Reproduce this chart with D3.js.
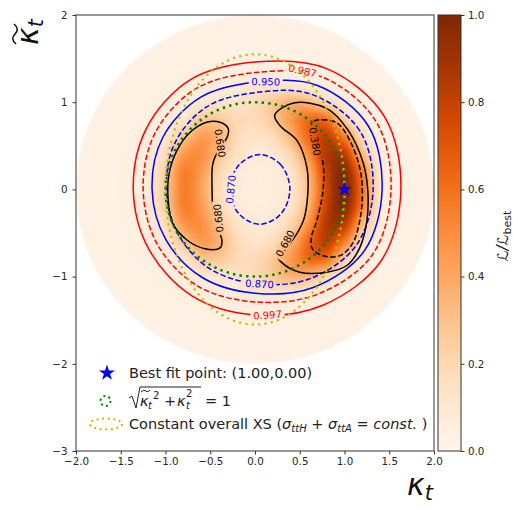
<!DOCTYPE html>
<html><head><meta charset="utf-8">
<script src="https://cdn.jsdelivr.net/npm/d3@7/dist/d3.min.js"></script>
<style>
html,body{margin:0;padding:0;background:#fff;}
svg{display:block;}
text{font-family:"DejaVu Sans",sans-serif;}
</style></head><body>
<svg id="chart" width="513" height="510"></svg>
<script>
// ================= DATA =================
const kappaGrid = [-2.0,-1.8,-1.6,-1.4,-1.2,-1.0,-0.8,-0.6,-0.4,-0.2,0.0,0.2,0.4,0.6,0.8,1.0,1.2,1.4,1.6,1.8,2.0];
// upper half of the (top/bottom symmetric) likelihood map, kappaTilde = 0 .. 2
const kappaTildeGrid = [0.0,0.2,0.4,0.6,0.8,1.0,1.2,1.4,1.6,1.8,2.0];
const likelihoodRows = [
 [0.035,0.035,0.035,0.045,0.088,0.27,0.55,0.42,0.17,0.082,0.06,0.073,0.117,0.325,0.77,1.0,0.59,0.122,0.039,0.035,0.035],
 [0.035,0.035,0.035,0.044,0.083,0.25,0.54,0.45,0.21,0.096,0.065,0.076,0.138,0.37,0.80,0.97,0.54,0.109,0.039,0.035,0.035],
 [0.035,0.035,0.035,0.041,0.069,0.18,0.45,0.49,0.30,0.145,0.089,0.109,0.21,0.49,0.85,0.83,0.34,0.078,0.037,0.035,0.035],
 [0.035,0.035,0.035,0.036,0.054,0.11,0.28,0.44,0.36,0.19,0.134,0.18,0.35,0.63,0.81,0.55,0.18,0.049,0.035,0.035,0.035],
 [0.035,0.035,0.035,0.035,0.042,0.064,0.12,0.27,0.27,0.19,0.187,0.27,0.45,0.62,0.60,0.25,0.079,0.038,0.035,0.035,0.035],
 [0.035,0.035,0.035,0.035,0.036,0.044,0.064,0.095,0.126,0.137,0.18,0.27,0.36,0.33,0.20,0.088,0.042,0.035,0.035,0.035,0.035],
 [0.035,0.035,0.035,0.035,0.035,0.036,0.042,0.054,0.067,0.077,0.106,0.11,0.10,0.09,0.065,0.041,0.035,0.035,0.035,0.035,0.035],
 [0.035,0.035,0.035,0.035,0.035,0.035,0.035,0.036,0.041,0.044,0.049,0.046,0.043,0.037,0.035,0.035,0.035,0.035,0.035,0.035,0.035],
 [0.035,0.035,0.035,0.035,0.035,0.035,0.035,0.035,0.035,0.035,0.035,0.035,0.035,0.035,0.035,0.035,0.035,0.035,0.035,0.035,0.035],
 [0.035,0.035,0.035,0.035,0.035,0.035,0.035,0.035,0.035,0.035,0.035,0.035,0.035,0.035,0.035,0.035,0.035,0.035,0.035,0.035,0.035],
 [0.035,0.035,0.035,0.035,0.035,0.035,0.035,0.035,0.035,0.035,0.035,0.035,0.035,0.035,0.035,0.035,0.035,0.035,0.035,0.035,0.035]
];
const scanRadius = 2.0;
const bestFit = [1.0, 0.0];
const xTicks = [-2.0,-1.5,-1.0,-0.5,0.0,0.5,1.0,1.5,2.0];
const yTicks = [-3,-2,-1,0,1,2];
const cbTicks = [0.0,0.2,0.4,0.6,0.8,1.0];

// outer confidence rings: radius from the origin at each polar angle (degrees)
const ringAngles = [0,30,60,90,120,150,180,210,240,270,300,330];
const ring997 = [1.63,1.67,1.60,1.46,1.45,1.40,1.36,1.37,1.41,1.44,1.53,1.63];
const ring987 = [1.52,1.56,1.49,1.34,1.33,1.29,1.25,1.26,1.28,1.29,1.39,1.51];
const ring950 = [1.42,1.46,1.38,1.23,1.22,1.19,1.15,1.15,1.17,1.19,1.30,1.41];
const ring870 = [1.32,1.35,1.26,1.11,1.09,1.04,0.99,1.00,1.04,1.08,1.19,1.30];
// inner / crescent contours (kappa, kappaTilde)
const contour870inner = [[0.39,0],[0.29,0.28],[0.055,0.40],[-0.18,0.28],[-0.28,0],[-0.18,-0.28],[0.055,-0.40],[0.29,-0.28]];
const contour680right = [[0.22,0.85],[0.43,0.99],[0.80,0.93],[1.04,0.68],[1.21,0.30],[1.26,-0.01],[1.25,-0.36],[1.17,-0.67],[1.03,-0.87],[0.80,-0.95],[0.50,-0.95],[0.30,-0.84],[0.25,-0.76],[0.39,-0.62],[0.54,-0.36],[0.59,-0.05],[0.58,0.25],[0.47,0.56],[0.28,0.73]];
const contour680left = [[-0.30,0.70],[-0.39,0.77],[-0.54,0.77],[-0.73,0.65],[-0.87,0.45],[-0.96,0.18],[-0.97,-0.13],[-0.92,-0.39],[-0.76,-0.58],[-0.56,-0.68],[-0.39,-0.67],[-0.37,-0.58],[-0.42,-0.44],[-0.47,-0.21],[-0.48,0.02],[-0.47,0.30],[-0.39,0.48],[-0.31,0.60]];
const contour380 = [[0.64,0.77],[0.75,0.80],[0.92,0.76],[1.06,0.56],[1.17,0.25],[1.20,-0.05],[1.17,-0.36],[1.09,-0.62],[0.95,-0.76],[0.76,-0.76],[0.64,-0.68],[0.63,-0.55],[0.69,-0.36],[0.76,-0.01],[0.76,0.30],[0.70,0.48],[0.64,0.64]];
const unitCircleRadius = 1.0;             // sqrt(kt~^2 + kt^2) = 1
const constXS = {a:1.0, b:1.55};           // constant overall XS ellipse semi-axes

const ringToPoints = r => ringAngles.map((a,i)=>[r[i]*Math.cos(a*Math.PI/180), r[i]*Math.sin(a*Math.PI/180)]);
const contourLines = [
  {pts:ringToPoints(ring997), color:"#ff0000", dash:null},
  {pts:ringToPoints(ring987), color:"#ff0000", dash:"5.5,2.4"},
  {pts:ringToPoints(ring950), color:"#0000ff", dash:null},
  {pts:ringToPoints(ring870), color:"#0000ff", dash:"5.5,2.4"},
  {pts:contour870inner, color:"#0000ff", dash:"5.5,2.4"},
  {pts:contour680left, color:"#000000", dash:null},
  {pts:contour680right, color:"#000000", dash:null},
  {pts:contour380, color:"#000000", dash:"5.5,2.4"}
];
const contourLabels = [
  {t:"0.997", x:0.14, y:-1.44, r:-4, c:"#ff0000"},
  {t:"0.987", x:0.53, y:1.36, r:12, c:"#ff0000"},
  {t:"0.950", x:0.12, y:1.235, r:1, c:"#0000ff"},
  {t:"0.870", x:0.05, y:-1.085, r:3, c:"#0000ff"},
  {t:"0.870", x:-0.27, y:0.0, r:-84, c:"#0000ff"},
  {t:"0.680", x:-0.39, y:0.53, r:82, c:"#000000"},
  {t:"0.680", x:-0.41, y:-0.33, r:-96, c:"#000000"},
  {t:"0.680", x:0.335, y:-0.62, r:-62, c:"#000000"},
  {t:"0.380", x:0.67, y:0.55, r:80, c:"#000000"}
];

// ================= DRAWING =================
const svg = d3.select("#chart");
const x = d3.scaleLinear().domain([-2,2]).range([76,434]);
const y = d3.scaleLinear().domain([-3,2]).range([451,15]);
const color = d3.scaleSequential(d3.interpolateOranges).domain([0,1]);
const defs = svg.append("defs");

// --- heat map raster ---
const fullRows = [], fullY = [];
for (let j = kappaTildeGrid.length-1; j > 0; j--) { fullRows.push(likelihoodRows[j]); fullY.push(-kappaTildeGrid[j]); }
for (let j = 0; j < kappaTildeGrid.length; j++) { fullRows.push(likelihoodRows[j]); fullY.push(kappaTildeGrid[j]); }
const nx = kappaGrid.length, ny = fullY.length;
const dxg = kappaGrid[1]-kappaGrid[0], dyg = fullY[1]-fullY[0];
function gv(i,j){ i=Math.max(0,Math.min(nx-1,i)); j=Math.max(0,Math.min(ny-1,j)); return fullRows[j][i]; }
function cr(p0,p1,p2,p3,t){ return p1 + 0.5*t*(p2-p0 + t*(2*p0-5*p1+4*p2-p3 + t*(3*(p1-p2)+p3-p0))); }
function sample(xv,yv){
  const fx=(xv-kappaGrid[0])/dxg, fy=(yv-fullY[0])/dyg;
  const i=Math.floor(fx), j=Math.floor(fy), tx=fx-i, ty=fy-j;
  const r=[];
  for(let m=-1;m<=2;m++) r.push(cr(gv(i-1,j+m),gv(i,j+m),gv(i+1,j+m),gv(i+2,j+m),tx));
  return cr(r[0],r[1],r[2],r[3],ty);
}
const lut = d3.range(1001).map(k=>d3.rgb(color(k/1000)));
const x0=x.range()[0], y0=y.range()[1];
const pw=Math.round(x.range()[1]-x0), ph=Math.round(y.range()[0]-y0);
const cv=document.createElement("canvas"); cv.width=pw; cv.height=ph;
const ctx=cv.getContext("2d"); const img=ctx.createImageData(pw,ph);
for(let py=0;py<ph;py++){
  const yv=y.invert(y0+py+0.5);
  for(let px=0;px<pw;px++){
    const xv=x.invert(x0+px+0.5);
    if(xv*xv+yv*yv>(scanRadius+0.05)*(scanRadius+0.05)) continue;
    let v=sample(xv,yv); v=Math.max(0,Math.min(1,v));
    const c=lut[Math.round(v*1000)]; const o=(py*pw+px)*4;
    img.data[o]=c.r; img.data[o+1]=c.g; img.data[o+2]=c.b; img.data[o+3]=255;
  }
}
ctx.putImageData(img,0,0);
defs.append("clipPath").attr("id","disk").append("ellipse")
  .attr("cx",x(0)).attr("cy",y(0)).attr("rx",x(scanRadius)-x(0)).attr("ry",y(0)-y(scanRadius));
svg.append("image").attr("href",cv.toDataURL()).attr("x",x0).attr("y",y0)
  .attr("width",pw).attr("height",ph).attr("preserveAspectRatio","none").attr("clip-path","url(#disk)");

// --- label mask so contour lines break under labels ---
const mask = defs.append("mask").attr("id","lblmask").attr("maskUnits","userSpaceOnUse")
  .attr("x",0).attr("y",0).attr("width",513).attr("height",510);
mask.append("rect").attr("x",0).attr("y",0).attr("width",513).attr("height",510).attr("fill","white");
contourLabels.forEach(l=>{
  mask.append("rect").attr("x",-17).attr("y",-5).attr("width",34).attr("height",10).attr("fill","black")
    .attr("transform",`translate(${x(l.x)},${y(l.y)}) rotate(${l.r})`);
});

const line = d3.line().x(d=>x(d[0])).y(d=>y(d[1])).curve(d3.curveCatmullRomClosed.alpha(0.5));
const cg = svg.append("g").attr("mask","url(#lblmask)");
contourLines.forEach(c=>{
  cg.append("path").attr("d",line(c.pts)).attr("fill","none").attr("stroke",c.color)
    .attr("stroke-width",1.5).attr("stroke-dasharray",c.dash);
});
contourLabels.forEach(l=>{
  svg.append("text").attr("transform",`translate(${x(l.x)},${y(l.y)}) rotate(${l.r})`)
    .attr("text-anchor","middle").attr("dy","0.36em").attr("font-size",10).attr("fill",l.c).text(l.t);
});

// --- reference curves ---
svg.append("ellipse").attr("cx",x(0)).attr("cy",y(0))
  .attr("rx",x(unitCircleRadius)-x(0)).attr("ry",y(0)-y(unitCircleRadius))
  .attr("fill","none").attr("stroke","#008000").attr("stroke-width",2.5).attr("stroke-dasharray","2.4,4.2");
svg.append("ellipse").attr("cx",x(0)).attr("cy",y(0))
  .attr("rx",x(constXS.a)-x(0)).attr("ry",y(0)-y(constXS.b))
  .attr("fill","none").attr("stroke","#bfbf00").attr("stroke-width",2.2).attr("stroke-dasharray","2.2,4.2");

// best fit star
svg.append("path").attr("d",d3.symbol(d3.symbolStar, 66)())
  .attr("transform",`translate(${x(bestFit[0])},${y(bestFit[1])})`).attr("fill","#0000ff");

// --- axes frame ---
svg.append("rect").attr("x",x(-2)).attr("y",y(2)).attr("width",x(2)-x(-2)).attr("height",y(-3)-y(2))
  .attr("fill","none").attr("stroke","#333").attr("stroke-width",1);
const fmtX = d=> d3.format(".1f")(d).replace("-","\u2212");
const fmtY = d=> d3.format("d")(d).replace("-","\u2212");
const xa = svg.append("g").attr("transform",`translate(0,${y(-3)})`)
  .call(d3.axisBottom(x).tickValues(xTicks).tickFormat(fmtX).tickSize(3.5).tickSizeOuter(0));
const ya = svg.append("g").attr("transform",`translate(${x(-2)},0)`)
  .call(d3.axisLeft(y).tickValues(yTicks).tickFormat(fmtY).tickSize(3.5).tickSizeOuter(0));
[xa,ya].forEach(a=>{
  a.select(".domain").remove();
  a.selectAll("line").attr("stroke","#333");
  a.selectAll("text").attr("font-family","DejaVu Sans").attr("font-size",10.3).attr("fill","#262626");
});
ya.selectAll("text").attr("x",-8.5);
xa.selectAll("text").attr("y",7);

// --- colorbar ---
const cb = d3.scaleLinear().domain([0,1]).range([451,15]);
const grad = defs.append("linearGradient").attr("id","cbgrad").attr("x1",0).attr("y1",1).attr("x2",0).attr("y2",0);
d3.range(0,1.0001,0.05).forEach(t=>grad.append("stop").attr("offset",t).attr("stop-color",color(t)));
svg.append("rect").attr("x",438).attr("y",cb(1)).attr("width",23).attr("height",cb(0)-cb(1))
  .attr("fill","url(#cbgrad)").attr("stroke","#333").attr("stroke-width",1);
const cba = svg.append("g").attr("transform","translate(461,0)")
  .call(d3.axisRight(cb).tickValues(cbTicks).tickFormat(d3.format(".1f")).tickSize(3.5).tickSizeOuter(0));
cba.select(".domain").remove();
cba.selectAll("line").attr("stroke","#333");
cba.selectAll("text").attr("font-family","DejaVu Sans").attr("font-size",10.3).attr("fill","#262626").attr("x",7);
const cbl = svg.append("text").attr("transform","translate(508,236) rotate(-90)").attr("text-anchor","middle")
  .attr("font-size",15).attr("fill","#222");
cbl.append("tspan").attr("font-style","italic").text("\u2112/\u2112");
cbl.append("tspan").attr("font-size",11).attr("dy",3).text("best");

// --- axis labels ---
const xl = svg.append("text").attr("x",407).attr("y",495).attr("font-size",30).attr("font-style","italic").attr("fill","#111");
xl.append("tspan").text("\u03ba");
xl.append("tspan").attr("font-size",21).attr("dy",5).text("t");
const ylg = svg.append("g").attr("transform","translate(38,45) rotate(-90)");
const yl = ylg.append("text").attr("x",0).attr("y",0).attr("font-size",30).attr("font-style","italic").attr("fill","#111");
yl.append("tspan").text("\u03ba");
yl.append("tspan").attr("font-size",21).attr("dy",5).text("t");
ylg.append("path").attr("d","M1,-22 Q6,-28 11,-23 T21,-24").attr("fill","none").attr("stroke","#111").attr("stroke-width",1.6);

// --- legend ---
const lg = svg.append("g");
lg.append("path").attr("d",d3.symbol(d3.symbolStar, 80)()).attr("transform","translate(107,373)").attr("fill","#0000ff");
lg.append("text").attr("x",129).attr("y",378).attr("font-size",14.5).attr("fill","#222").text("Best fit point: (1.00,0.00)");
lg.append("circle").attr("cx",105.5).attr("cy",401).attr("r",5).attr("fill","none").attr("stroke","#008000")
  .attr("stroke-width",2).attr("stroke-dasharray","2,3.2");
lg.append("ellipse").attr("cx",106).attr("cy",424).attr("rx",16).attr("ry",5.5).attr("fill","none").attr("stroke","#bfbf00")
  .attr("stroke-width",2).attr("stroke-dasharray","2,3.5");
// sqrt expression
const fs=14.5;
lg.append("path").attr("d","M129,398 L132,396 L136,408 L140,387 L201,387").attr("fill","none").attr("stroke","#222").attr("stroke-width",1);
lg.append("text").attr("x",140).attr("y",406).attr("font-size",fs).attr("font-style","italic").attr("fill","#222").text("\u03ba");
lg.append("path").attr("d","M141,392 Q144,389 146,391 T150,390").attr("fill","none").attr("stroke","#222").attr("stroke-width",1);
lg.append("text").attr("x",148).attr("y",409).attr("font-size",10).attr("font-style","italic").attr("fill","#222").text("t");
lg.append("text").attr("x",153).attr("y",399).attr("font-size",10).attr("fill","#222").text("2");
lg.append("text").attr("x",164).attr("y",406).attr("font-size",fs).attr("fill","#222").text("+");
lg.append("text").attr("x",177).attr("y",406).attr("font-size",fs).attr("font-style","italic").attr("fill","#222").text("\u03ba");
lg.append("text").attr("x",186).attr("y",409).attr("font-size",10).attr("font-style","italic").attr("fill","#222").text("t");
lg.append("text").attr("x",186).attr("y",397).attr("font-size",10).attr("fill","#222").text("2");
lg.append("text").attr("x",205).attr("y",406).attr("font-size",fs).attr("fill","#222").text("= 1");
const l3 = lg.append("text").attr("x",129).attr("y",429).attr("font-size",fs).attr("fill","#222");
l3.append("tspan").text("Constant overall XS (");
l3.append("tspan").attr("font-style","italic").text("\u03c3");
l3.append("tspan").attr("font-style","italic").attr("font-size",10).attr("dy",3).text("ttH");
l3.append("tspan").attr("dy",-3).text(" + ");
l3.append("tspan").attr("font-style","italic").text("\u03c3");
l3.append("tspan").attr("font-style","italic").attr("font-size",10).attr("dy",3).text("ttA");
l3.append("tspan").attr("dy",-3).text(" = ");
l3.append("tspan").attr("font-style","italic").text("const.");
l3.append("tspan").text(" )");
</script>
</body></html>
